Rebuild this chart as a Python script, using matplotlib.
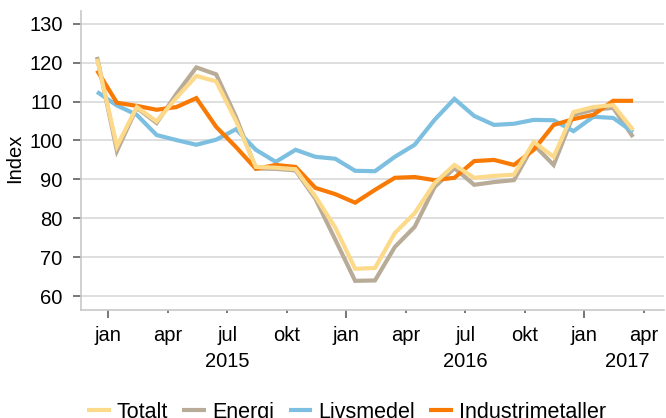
import matplotlib
matplotlib.use("Agg")
import matplotlib.pyplot as plt
import numpy as np

plt.rcParams['font.family'] = ['Liberation Sans', 'DejaVu Sans']

# Monthly observations, Dec 2014 .. Mar 2017
totalt = [121, 98.5, 108.6, 104.9, 111, 116.6, 115.2, 105, 93.2, 93, 92.6, 85.6,
          77.6, 67.0, 67.2, 76.2, 81.3, 89.0, 93.7, 90.4, 90.9, 91.2, 99.6, 95.8,
          107.3, 108.6, 109.1, 102.7]
energi = [121.5, 97.3, 108.4, 104.5, 112, 118.8, 117.0, 106, 92.8, 92.7, 92.3, 85.0,
          74.5, 63.9, 64.0, 72.6, 77.8, 88.0, 92.9, 88.6, 89.3, 89.8, 98.9, 93.7,
          106.6, 107.9, 108.4, 100.9]
livsmedel = [112.5, 109.0, 106.6, 101.4, 100.1, 98.9, 100.2, 102.9, 97.6, 94.5, 97.6, 95.8,
             95.3, 92.2, 92.1, 95.8, 98.9, 105.3, 110.7, 106.3, 104.0, 104.3, 105.3, 105.2,
             102.4, 106.1, 105.8, 102.2]
industrimetaller = [118, 109.7, 108.9, 107.9, 108.6, 110.9, 103.5, 98.3, 92.7, 93.7, 93.2, 87.8,
                    86.2, 84.0, 87.3, 90.4, 90.6, 89.8, 90.4, 94.7, 95.0, 93.7, 97.6, 104.0,
                    105.5, 106.6, 110.2, 110.2]

month_labels = ['jan', 'apr', 'jul', 'okt', 'jan', 'apr', 'jul', 'okt', 'jan', 'apr']
year_labels = ['2015', '2016', '2017']
yticks = [60, 70, 80, 90, 100, 110, 120, 130]

x = np.arange(len(totalt))
tick_pos = 0.55 + 3 * np.arange(len(month_labels))
year_pos = [6.55, 18.55, 26.7]

fs = 14.5
lfs = 15.5
fig = plt.figure(figsize=(6.66, 4.18), dpi=100)
W, H = 666, 418
ax = fig.add_axes([81 / W, 1 - 310 / H, (664 - 81) / W, (310 - 11) / H])

c_tot = '#fdd98a'
c_en = '#b8ab97'
c_liv = '#7cbfe0'
c_ind = '#f87a05'
lw = 3.0
kw = dict(lw=lw, solid_joinstyle='miter', solid_capstyle='butt')

ax.plot(x, energi, color=c_en, zorder=2, label='Energi', **kw)
ax.plot(x, livsmedel, color=c_liv, zorder=3, label='Livsmedel', **kw)
ax.plot(x, industrimetaller, color=c_ind, zorder=4, label='Industrimetaller', **kw)
ax.plot(x, totalt, color=c_tot, zorder=5, label='Totalt', **kw)

ax.set_xlim(-0.81, 28.56)
ax.set_ylim(56.4, 133.3)
ax.set_yticks(yticks)
ax.set_yticklabels([str(v) for v in yticks])
ax.set_xticks(tick_pos)
ax.set_xticklabels(month_labels)

ax.grid(axis='y', color='#d9d9d9', lw=1.2, zorder=0)
ax.set_axisbelow(True)
for s in ['top', 'right']:
    ax.spines[s].set_visible(False)
for s in ['left', 'bottom']:
    ax.spines[s].set_color('#c8c8c8')
    ax.spines[s].set_linewidth(1.2)

ax.tick_params(axis='y', length=5.8, width=1.2, color='#606060', pad=7.5, labelsize=fs)
ax.tick_params(axis='x', length=5.8, width=1.2, color='#606060', pad=5.6, labelsize=fs)
for i, t in enumerate(ax.xaxis.get_major_ticks()):
    if month_labels[i] != 'jan':
        t.tick1line.set_markersize(2.2)

for lab, pos in zip(year_labels, year_pos):
    ax.text(pos, -0.172, lab, transform=ax.get_xaxis_transform(), ha='center',
            va='center', fontsize=fs)

fig.text(15 / W, 1 - 158 / H, 'Index', rotation=90, ha='center', va='center', fontsize=fs)

handles, labels = ax.get_legend_handles_labels()
order = [3, 0, 1, 2]
fig.legend([handles[i] for i in order], [labels[i] for i in order],
           loc='center', bbox_to_anchor=(0.5204, 1 - 412.5 / H), ncol=4, frameon=False,
           fontsize=lfs, handlelength=1.1, handletextpad=0.28, columnspacing=0.67,
           borderaxespad=0, borderpad=0)

fig.savefig('out.png', dpi=100)
